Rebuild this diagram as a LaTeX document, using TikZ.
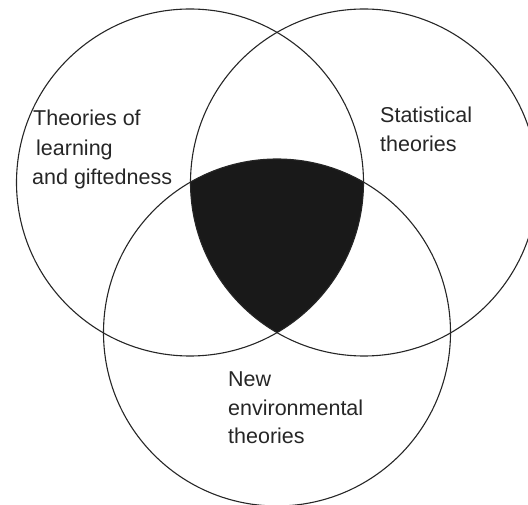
\documentclass[tikz,border=0pt]{standalone}
\usepackage{fontspec}
\setmainfont{Liberation Sans}
\begin{document}
\begin{tikzpicture}[x=1pt,y=-1pt,
  ring/.style={draw=black!85,line width=1.1pt},
  lbl/.style={anchor=base west,inner sep=0pt,text=black!85,font=\fontsize{21.5}{26}\selectfont}]
\useasboundingbox (0,0) rectangle (528,505);
\clip (0,0) rectangle (528,505);
\coordinate (cL) at (190,182.5);
\coordinate (cR) at (364,182.5);
\coordinate (cB) at (277,332.5);
\begin{scope}
  \clip (cL) circle (173.5pt);
  \clip (cR) circle (173.5pt);
  \fill[black!90] (cB) circle (173.5pt);
\end{scope}
\draw[ring] (cL) circle (173.5pt);
\draw[ring] (cR) circle (173.5pt);
\draw[ring] (cB) circle (173.5pt);
\node[lbl] (l1) at (33,126) {Theories of};
\node[lbl] (l2) at (36,155.5) {learning};
\node[lbl] (l3) at (32,184.5) {and giftedness};
\node[lbl] (r1) at (380,123) {Statistical};
\node[lbl] (r2) at (380,152) {theories};
\node[lbl] (b1) at (228,387) {New};
\node[lbl] (b2) at (228,415) {environmental};
\node[lbl] (b3) at (228,443) {theories};
\end{tikzpicture}
\end{document}
